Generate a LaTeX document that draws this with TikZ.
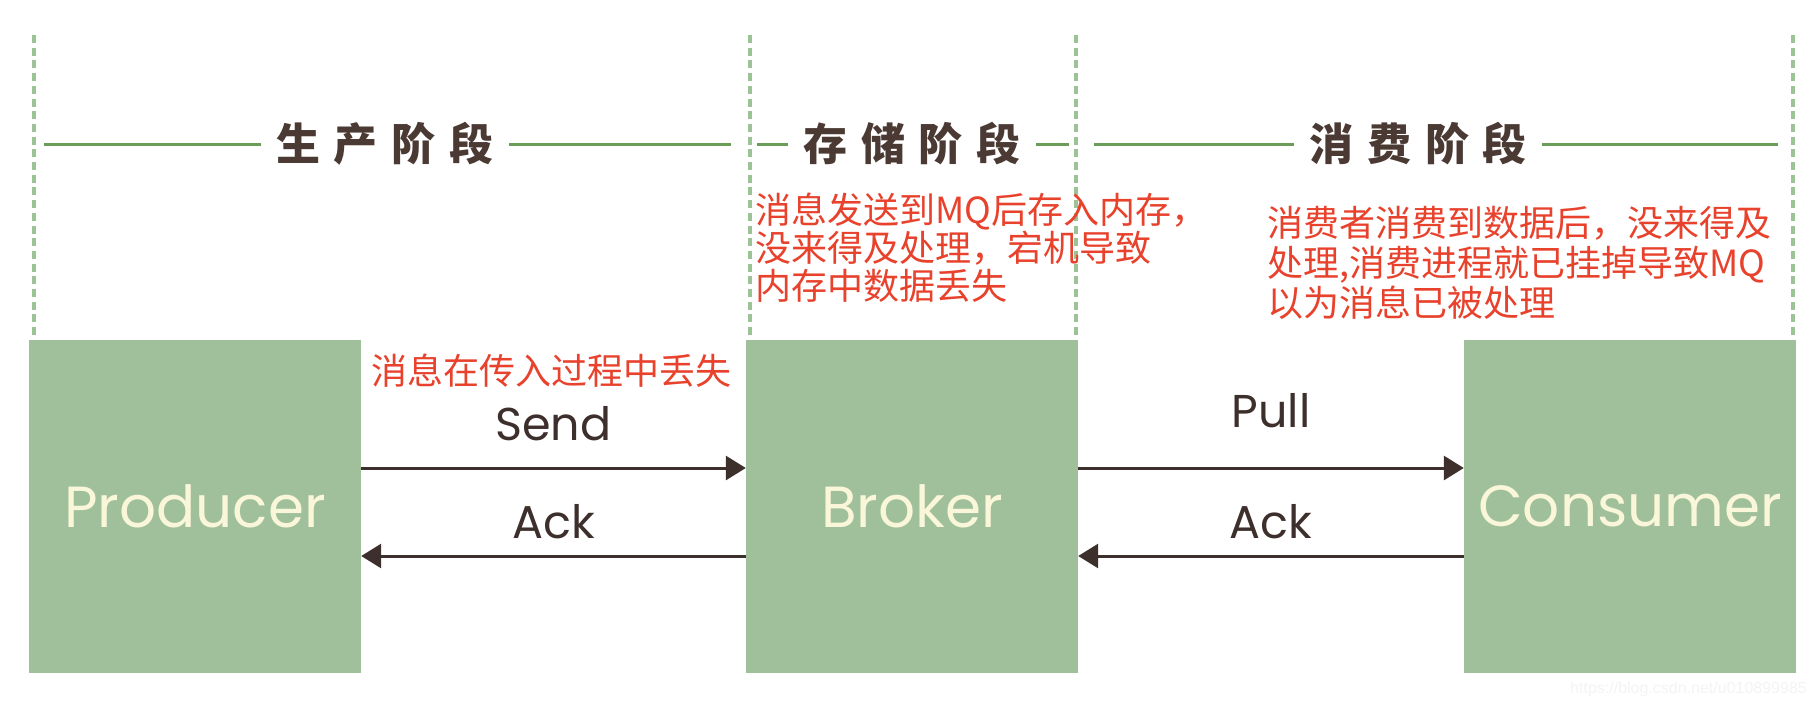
\documentclass[tikz,border=0pt]{standalone}
\usepackage{fontspec}
\setmainfont{Poppins}
\newfontfamily\cjkfont{Noto Sans CJK SC}
\newfontfamily\urlfont{Liberation Sans}
\usetikzlibrary{arrows.meta,calc,positioning}
\definecolor{mqgreen}{HTML}{9FC09A}
\definecolor{mqdash}{HTML}{9CC395}
\definecolor{mqline}{HTML}{6A9E58}
\definecolor{mqink}{HTML}{3D2F2B}
\definecolor{mqred}{HTML}{E8412C}
\definecolor{mqcream}{HTML}{FAF6DA}
\definecolor{mqstage}{HTML}{4A3A33}
\newcommand{\mqspread}[4]{#1\hspace{14pt}#2\hspace{14pt}#3\hspace{14pt}#4}
\tikzset{
  mqbox/.style={fill=mqgreen,minimum width=332pt,minimum height=333pt,inner sep=0pt,
    text=mqcream,font=\fontsize{58}{60}\selectfont},
  mqarrow/.style={draw=mqink,line width=3pt,-{Triangle[length=20pt,width=24pt]}},
  mqlabel/.style={text=mqink,font=\fontsize{46}{48}\selectfont,inner sep=0pt},
  phasedash/.style={draw=mqdash,line width=4pt,dash pattern=on 8pt off 4.7pt},
  phaseline/.style={draw=mqline,line width=3pt},
  phasetitle/.style={text=mqstage,font=\cjkfont\bfseries\fontsize{44}{46}\selectfont,
    inner xsep=15pt,inner ysep=0pt},
  lossnote/.style={text=mqred,font=\cjkfont\fontsize{36}{38}\selectfont,
    align=left,inner sep=0pt,anchor=north west},
}

\begin{document}
\begin{tikzpicture}[x=1pt,y=-1pt]
  \path[use as bounding box,fill=white] (0,0) rectangle (1812,718);
  % boxes
  \node[mqbox] (producer) at (195,506.5) {Producer};
  \node[mqbox] (broker) at (912,506.5) {Broker};
  \node[mqbox] (consumer) at (1630,506.5) {Consumer};
  % phase borders
  \coordinate (b1) at (34,35);
  \coordinate (b2) at (750,35);
  \coordinate (b3) at (1076,35);
  \coordinate (b4) at (1793,35);
  \draw[phasedash] (b1) -- (b1 |- producer.north);
  \draw[phasedash] (b2) -- (b2 |- broker.north);
  \draw[phasedash] (b3) -- (b3 |- broker.north);
  \draw[phasedash] (b4) -- (b4 |- consumer.north);
  % phase titles
  \node[phasetitle] (produce) at (385,144) {\mqspread{生}{产}{阶}{段}};
  \node[phasetitle] (store) at (912,144) {\mqspread{存}{储}{阶}{段}};
  \node[phasetitle] (consume) at (1418,144) {\mqspread{消}{费}{阶}{段}};
  \draw[phaseline,shorten <=10pt] (b1 |- produce) -- (produce.west);
  \draw[phaseline,shorten >=19pt] (produce.east) -- (b2 |- produce);
  \draw[phaseline,shorten <=7pt] (b2 |- store) -- (store.west);
  \draw[phaseline,shorten >=7pt] (store.east) -- (b3 |- store);
  \draw[phaseline,shorten <=18pt] (b3 |- consume) -- (consume.west);
  \draw[phaseline,shorten >=15pt] (consume.east) -- (b4 |- consume);
  % messages
  \draw[mqarrow] ([yshift=38.5pt]producer.east) -- node[mqlabel,above=26pt] (send) {Send} ([yshift=38.5pt]broker.west);
  \draw[mqarrow] ([yshift=-49.5pt]broker.west) -- node[mqlabel,above=16pt] (ackprod) {Ack} ([yshift=-49.5pt]producer.east);
  \draw[mqarrow] ([yshift=38.5pt]broker.east) -- node[mqlabel,above=39pt] (pull) {Pull} ([yshift=38.5pt]consumer.west);
  \draw[mqarrow] ([yshift=-49.5pt]consumer.west) -- node[mqlabel,above=16pt] (ackcons) {Ack} ([yshift=-49.5pt]broker.east);
  % loss notes
  \node[lossnote] (sendnote) at (371,354) {消息在传入过程中丢失};
  \node[lossnote] (storenote) at (755,193) {消息发送到MQ后存入内存，\\没来得及处理，宕机导致\\内存中数据丢失};
  \node[lossnote,font=\cjkfont\fontsize{36}{40}\selectfont] (consumenote) at (1267,206)
    {消费者消费到数据后，没来得及\\处理,消费进程就已挂掉导致MQ\\以为消息已被处理};
  \node[text=gray!9,font=\urlfont\fontsize{16}{18}\selectfont,anchor=base west,inner sep=0pt]
    (mark) at (1570,693) {https://blog.csdn.net/u010899985};
\end{tikzpicture}
\end{document}
